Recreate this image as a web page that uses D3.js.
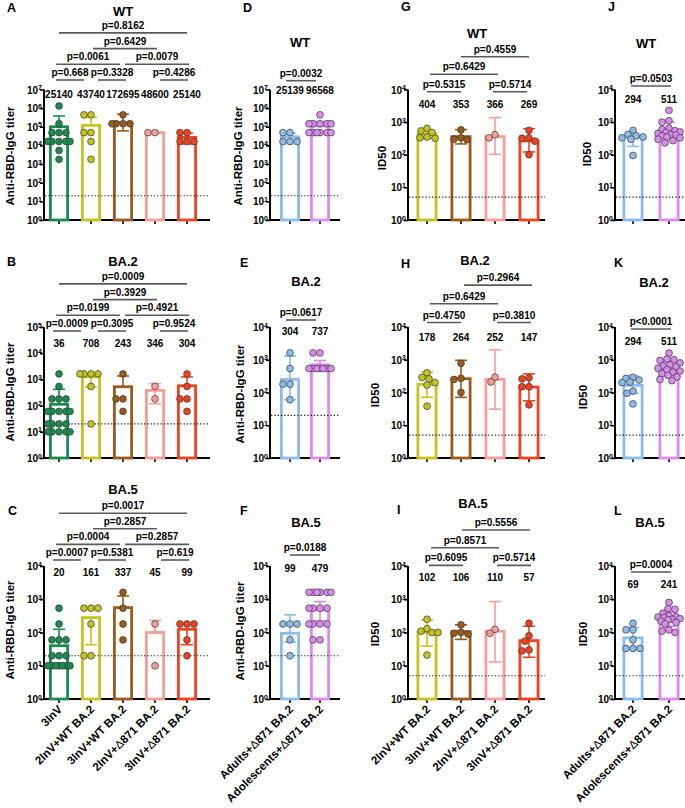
<!DOCTYPE html>
<html><head><meta charset="utf-8">
<script src="https://cdn.jsdelivr.net/npm/d3@7"></script>
<style>
body{margin:0;background:#fff;}
svg{display:block;font-family:"Liberation Sans",Arial,sans-serif;font-weight:bold;}
</style></head><body>
<svg id="c" width="685" height="808"></svg>
<script>
// ---------------- DATA ----------------
const catsFive = ["3InV","2InV+WT BA.2","3InV+WT BA.2","2InV+Δ871 BA.2","3InV+Δ871 BA.2"];
const catsFour = ["2InV+WT BA.2","3InV+WT BA.2","2InV+Δ871 BA.2","3InV+Δ871 BA.2"];
const catsTwo  = ["Adults+Δ871 BA.2","Adolescents+Δ871 BA.2"];
const variantTitles = ["WT","BA.2","BA.5"];
const lodIgG = 20, lodID50 = 5;

// Panel A (anti-RBD IgG, WT)
const aPoints = [[1312200,145800,48600,48600,48600,16200,16200,16200,16200,16200,5400,1800],
                 [437400,437400,48600,48600,16200,1800],
                 [437400,145800,145800,145800,145800],
                 [48600,48600],
                 [48600,48600,16200,16200,16200]];
const aBars = [100000,120000,165000,48600,27000];
const aErrLow = [null,null,60000,null,12000];
const aErrHigh = [380000,320000,480000,null,46000];
const aGMT = ["25140","43740","172695","48600","25140"];
const aStats = [["p=0.668",0,1,0],["p=0.3328",1,2,0],["p=0.4286",3,4,0],["p=0.0061",0,2,1],["p=0.0079",2,4,1],["p=0.6429",1,3,2],["p=0.8162",0,4,3]];

// Panel B (anti-RBD IgG, BA.2)
const bPoints = [[1620,540,180,180,180,60,60,60,60,60,20,20,20,20,10,10,10,10,10],
                 [1620,1620,1620,1620,540,20],
                 [1620,180,180,60],
                 [540,180],
                 [1620,540,180,180,60]];
const bBars = [112,1260,525,380,573];
const bErrLow = [null,510,null,118,null];
const bErrHigh = [420,null,1350,690,1240];
const bGMT = ["36","708","243","346","304"];
const bStats = [["p=0.0009",0,1,0],["p=0.3095",1,2,0],["p=0.9524",3,4,0],["p=0.0199",0,2,1],["p=0.4921",2,4,1],["p=0.3929",1,3,2],["p=0.0009",0,4,3]];

// Panel C (anti-RBD IgG, BA.5)
const cPoints = [[540,180,60,60,60,20,20,20,10,10,10,10,10,10,10],
                 [540,540,540,180,20,20],
                 [1620,540,180,60],
                 [180,10],
                 [180,180,180,60,20]];
const cBars = [40,280,560,100,125];
const cErrLow = [null,43,null,null,43];
const cErrHigh = [125,null,1250,230,null];
const cGMT = ["20","161","337","45","99"];
const cStats = [["p=0.0007",0,1,0],["p=0.5381",1,2,0],["p=0.619",3,4,0],["p=0.0004",0,2,1],["p=0.2857",2,4,1],["p=0.2857",1,3,2],["p=0.0017",0,4,3]];

// Panel D (anti-RBD IgG, WT, adults vs adolescents)
const dPoints = [[48600,48600,16200,16200,16200],
                 [437400,145800,145800,145800,145800,145800,48600,48600,48600,48600,48600,48600]];
const dBars = [29000,110000];
const dErrLow = [null,null];
const dErrHigh = [46000,190000];
const dGMT = ["25139","96568"];
const dStats = [["p=0.0032",0,1,0]];

// Panel E (BA.2)
const ePoints = [[1620,540,180,180,60],[1620,1620,540,540,540,540,540,540,540]];
const eBars = [250,700];
const eErrLow = [60,null];
const eErrHigh = [1300,950];
const eGMT = ["304","737"];
const eStats = [["p=0.0617",0,1,0]];

// Panel F (BA.5)
const fPoints = [[180,180,180,60,20],[1620,1620,1620,1620,1620,1620,540,540,540,540,180,180,180,180,60,60]];
const fBars = [95,480];
const fErrLow = [52,225];
const fErrHigh = [340,850];
const fGMT = ["99","479"];
const fStats = [["p=0.0188",0,1,0]];

// Panel G (ID50, WT)
const gPoints = [[640,540,480,350,330,320],[580,330,300,290],[330,410],[560,330,320,260,100]];
const gBars = [430,360,360,265];
const gErrLow = [320,215,103,122];
const gErrHigh = [580,590,1370,630];
const gGMT = ["404","353","366","269"];
const gStats = [["p=0.5315",0,1,0],["p=0.5714",2,3,0],["p=0.6429",0,2,1],["p=0.4559",1,3,2]];

// Panel H (ID50, BA.2)
const hPoints = [[400,290,260,200,170,38],[780,270,250,100],[210,295],[280,260,150,150,42]];
const hBars = [178,264,252,147];
const hErrLow = [71,71,31,56];
const hErrHigh = [425,960,2000,370];
const hGMT = ["178","264","252","147"];
const hStats = [["p=0.4750",0,1,0],["p=0.3810",2,3,0],["p=0.6429",0,2,1],["p=0.2964",1,3,2]];

// Panel I (ID50, BA.5)
const iPoints = [[250,130,110,100,100,21],[170,100,95,90],[95,125],[190,80,55,30,28]];
const iBars = [100,106,110,57];
const iErrLow = [39,62,13,18];
const iErrHigh = [235,170,850,155];
const iGMT = ["102","106","110","57"];
const iStats = [["p=0.6095",0,1,0],["p=0.5714",2,3,0],["p=0.8571",0,2,1],["p=0.5556",1,3,2]];

// Panel J (ID50, WT, adults vs adolescents)
const jPoints = [[560,420,380,350,330,300,95],
                 [2300,1100,1000,650,600,550,500,480,450,420,400,380,350,330,300,270,230]];
const jBars = [350,540];
const jErrLow = [180,null];
const jErrHigh = [null,1000];
const jGMT = ["294","511"];
const jStats = [["p=0.0503",0,1,0]];

// Panel K (ID50, BA.2)
const kPoints = [[290,270,240,210,200,110,95,45],
                 [1600,1050,1000,950,800,700,650,600,550,500,450,420,380,330,300,250,230]];
const kBars = [165,510];
const kErrLow = [95,320];
const kErrHigh = [320,880];
const kGMT = ["294","511"];
const kStats = [["p<0.0001",0,1,0]];

// Panel L (ID50, BA.5)
const lPoints = [[190,120,120,60,33,33,33],
                 [800,520,500,380,320,300,290,280,260,250,240,220,200,180,120,110,100]];
const lBars = [69,241];
const lErrLow = [34,155];
const lErrHigh = [140,410];
const lGMT = ["69","241"];
const lStats = [["p=0.0004",0,1,0]];

// ---------------- STYLE / LAYOUT ----------------
const colors = {
  "3InV":"#1b8c50","2InV+WT BA.2":"#c4c41e","3InV+WT BA.2":"#9a5a1c",
  "2InV+Δ871 BA.2":"#f59d98","3InV+Δ871 BA.2":"#f0421f",
  "Adults+Δ871 BA.2":"#8dbbea","Adolescents+Δ871 BA.2":"#d98cee"
};
const cols = {
  L:{axisX:44, right:210, first:59, last:187, barW:20},
  D:{axisX:270, right:340, first:290, last:320, barW:20},
  G:{axisX:408, right:545, first:427, last:529, barW:21},
  J:{axisX:615, right:685, first:633, last:669, barW:21}
};
const rows = [{top:89.5,bottom:220},{top:327,bottom:458},{top:566,bottom:699}];
const yTitleIgG = "Anti-RBD-IgG titer", yTitleID = "ID50";

const panels = [
 {L:"A",col:"L",row:0,max:7,cats:catsFive,pts:aPoints,bars:aBars,lo:aErrLow,hi:aErrHigh,gmt:aGMT,stats:aStats,lod:lodIgG,yt:yTitleIgG,
  tx:123,ty:15.5,numY:98,br0:80,brS:15.7,lx:7,ly:11.5,ytx:10,yty:156,nudge:{"0-1":-5,"1-2":5,"3-4":3,"0-2":-3,"2-4":2,"1-3":2},inset0:2},
 {L:"B",col:"L",row:1,max:5,cats:catsFive,pts:bPoints,bars:bBars,lo:bErrLow,hi:bErrHigh,gmt:bGMT,stats:bStats,lod:lodIgG,yt:yTitleIgG,
  tx:123,ty:266,numY:346.5,br0:331,brS:15.7,lx:7,ly:266,ytx:10,yty:392,nudge:{"0-1":-8,"1-2":5,"3-4":3,"0-2":-3,"2-4":2,"1-3":2},inset0:2},
 {L:"C",col:"L",row:2,max:4,cats:catsFive,pts:cPoints,bars:cBars,lo:cErrLow,hi:cErrHigh,gmt:cGMT,stats:cStats,lod:lodIgG,yt:yTitleIgG,
  tx:123,ty:494,numY:575.5,br0:560,brS:15.6,lx:8,ly:515,ytx:10,yty:630,nudge:{"0-1":-8,"1-2":5,"3-4":4,"0-2":-3,"2-4":2,"1-3":2},inset0:2},
 {L:"D",col:"D",row:0,max:7,cats:catsTwo,pts:dPoints,bars:dBars,lo:dErrLow,hi:dErrHigh,gmt:dGMT,stats:dStats,lod:lodIgG,yt:yTitleIgG,
  tx:300,ty:47,numY:94,br0:80.7,brS:16,lx:243,ly:11.5,ytx:238,yty:156,nudge:{"0-1":-4},inset0:0},
 {L:"E",col:"D",row:1,max:4,cats:catsTwo,pts:ePoints,bars:eBars,lo:eErrLow,hi:eErrHigh,gmt:eGMT,stats:eStats,lod:lodIgG,yt:yTitleIgG,
  tx:306,ty:286,numY:335,br0:320,brS:16,lx:240,ly:267,ytx:240,yty:394,nudge:{"0-1":-4},inset0:0},
 {L:"F",col:"D",row:2,max:4,cats:catsTwo,pts:fPoints,bars:fBars,lo:fErrLow,hi:fErrHigh,gmt:fGMT,stats:fStats,lod:lodIgG,yt:yTitleIgG,
  tx:306,ty:527,numY:571.5,br0:555,brS:16,lx:240,ly:515,ytx:240,yty:631,nudge:{"0-1":0},inset0:0},
 {L:"G",col:"G",row:0,max:4,cats:catsFour,pts:gPoints,bars:gBars,lo:gErrLow,hi:gErrHigh,gmt:gGMT,stats:gStats,lod:lodID50,yt:yTitleID,
  tx:477,ty:38,numY:108,br0:91.7,brS:17.5,lx:401,ly:11,ytx:382,yty:158,nudge:{"2-3":-2,"0-2":3},inset0:0},
 {L:"H",col:"G",row:1,max:4,cats:catsFour,pts:hPoints,bars:hBars,lo:hErrLow,hi:hErrHigh,gmt:hGMT,stats:hStats,lod:lodID50,yt:yTitleID,
  tx:475,ty:265,numY:340.5,br0:322.5,brS:18.7,lx:401,ly:268,ytx:375,yty:395,nudge:{"2-3":2,"0-2":3,"1-3":3},inset0:0},
 {L:"I",col:"G",row:2,max:4,cats:catsFour,pts:iPoints,bars:iBars,lo:iErrLow,hi:iErrHigh,gmt:iGMT,stats:iStats,lod:lodID50,yt:yTitleID,
  tx:473,ty:507.5,numY:580.5,br0:565.4,brS:17.7,lx:397,ly:514,ytx:375,yty:634,nudge:{"0-1":2,"2-3":2,"0-2":4,"1-3":1},inset0:0},
 {L:"J",col:"J",row:0,max:4,cats:catsTwo,pts:jPoints,bars:jBars,lo:jErrLow,hi:jErrHigh,gmt:jGMT,stats:jStats,lod:lodID50,yt:yTitleID,
  tx:646,ty:48,numY:103,br0:86,brS:16,lx:608,ly:11,ytx:587,yty:154,nudge:{"0-1":0},inset0:-2},
 {L:"K",col:"J",row:1,max:4,cats:catsTwo,pts:kPoints,bars:kBars,lo:kErrLow,hi:kErrHigh,gmt:kGMT,stats:kStats,lod:lodID50,yt:yTitleID,
  tx:654,ty:287,numY:344.5,br0:329,brS:16,lx:614,ly:267,ytx:583,yty:397,nudge:{"0-1":0},inset0:-2},
 {L:"L",col:"J",row:2,max:4,cats:catsTwo,pts:lPoints,bars:lBars,lo:lErrLow,hi:lErrHigh,gmt:lGMT,stats:lStats,lod:lodID50,yt:yTitleID,
  tx:650,ty:527,numY:587.5,br0:572,brS:16,lx:614,ly:515,ytx:583,yty:634,nudge:{"0-1":0},inset0:-2}
];
const titleOf = p => variantTitles[p.row];

// ---------------- DRAW ----------------
const svg = d3.select("#c");
const R = 3.4;

function swarm(values, y, cx, maxHalf){
  const pts = values.map(v=>({v, y:y(v)})).sort((a,b)=>a.y-b.y);
  const placed = [];
  const cands = [0];
  for(let k=1;k<=maxHalf;k++){cands.push(-k);cands.push(k);}
  pts.forEach(p=>{
    let best=null, bestScore=-1;
    for(const o of cands){
      let minD = Infinity;
      for(const q of placed){ const d=Math.hypot(q.x-(cx+o), q.y-p.y); if(d<minD)minD=d; }
      if(minD >= 2*R*0.92){ best=o; bestScore=Infinity; break; }
      if(minD > bestScore+0.01){ bestScore=minD; best=o; }
    }
    p.x = cx + best; placed.push(p);
  });
  return pts;
}

panels.forEach(P=>{
  const col = cols[P.col], row = rows[P.row];
  const g = svg.append("g");
  const y = d3.scaleLog().domain([1, Math.pow(10,P.max)]).range([row.bottom,row.top]);
  const x = d3.scalePoint().domain(P.cats).range([col.first,col.last]);

  // y axis
  const ya = d3.axisLeft(y).tickValues(d3.range(0,P.max+1).map(e=>Math.pow(10,e)))
     .tickSize(4).tickSizeOuter(0).tickPadding(-2).tickFormat(()=> "");
  const yg = g.append("g").attr("transform",`translate(${col.axisX},0)`).call(ya);
  yg.select(".domain").attr("stroke","#000").attr("stroke-width",2).attr("d",`M0,${row.bottom+1}V${row.top}`);
  yg.selectAll(".tick line").attr("stroke","#000").attr("stroke-width",1.6);
  yg.selectAll(".tick text").each(function(d){
     const t=d3.select(this); const e=Math.round(Math.log10(d));
     t.attr("font-size","10px").attr("font-weight","bold").attr("fill","#000").attr("dy","0.35em").text("10");
     t.append("tspan").attr("dy","-0.5em").attr("font-size","7px").text(e);
  });

  // x axis
  g.append("line").attr("x1",col.axisX-1).attr("x2",col.right).attr("y1",row.bottom).attr("y2",row.bottom)
    .attr("stroke","#000").attr("stroke-width",2);
  g.selectAll(".xt").data(P.cats).join("line").attr("x1",d=>x(d)).attr("x2",d=>x(d))
    .attr("y1",row.bottom).attr("y2",row.bottom+4).attr("stroke","#000").attr("stroke-width",1.6);

  // bars
  const sw = 2.8;
  g.selectAll(".bar").data(P.cats).join("rect")
    .attr("x",d=>x(d)-col.barW/2+sw/2).attr("width",col.barW-sw)
    .attr("y",(d,i)=>y(P.bars[i])).attr("height",(d,i)=>row.bottom-y(P.bars[i]))
    .attr("fill","#fff").attr("stroke",d=>colors[d]).attr("stroke-width",sw);

  // error bars
  P.cats.forEach((c,i)=>{
    const cx=x(c), yb=y(P.bars[i]);
    [P.lo[i],P.hi[i]].forEach(v=>{
      if(v==null) return;
      g.append("line").attr("x1",cx).attr("x2",cx).attr("y1",yb).attr("y2",y(v)).attr("stroke",colors[c]).attr("stroke-width",1.6);
      g.append("line").attr("x1",cx-6).attr("x2",cx+6).attr("y1",y(v)).attr("y2",y(v)).attr("stroke",colors[c]).attr("stroke-width",1.6);
    });
  });

  // LOD line
  g.append("line").attr("x1",col.axisX+1).attr("x2",col.right).attr("y1",y(P.lod)).attr("y2",y(P.lod))
    .attr("stroke","#222").attr("stroke-width",1.2).attr("stroke-dasharray","1.3 2");

  // points
  P.cats.forEach((c,i)=>{
    const pts = swarm(P.pts[i], y, x(c), 11);
    g.selectAll(null).data(pts).join("circle").attr("cx",d=>d.x).attr("cy",d=>d.y).attr("r",R)
      .attr("fill",colors[c]).attr("stroke","#3a3a3a").attr("stroke-width",0.7);
  });

  // GMT labels
  g.selectAll(".gmt").data(P.gmt).join("text").attr("x",(d,i)=>x(P.cats[i])).attr("y",P.numY)
    .attr("text-anchor","middle").attr("font-size","10px").text(d=>d);

  // brackets
  P.stats.forEach(s=>{
    const [txt,a,b,lv] = s;
    const key=a+"-"+b, nd = (P.nudge&&P.nudge[key])||0;
    const inset = lv===0 ? P.inset0 : 0;
    const x1 = x(P.cats[a])+inset+nd, x2 = x(P.cats[b])-inset+nd;
    const ly = P.br0 - lv*P.brS;
    g.append("line").attr("x1",x1).attr("x2",x2).attr("y1",ly).attr("y2",ly).attr("stroke","#5a5a5a").attr("stroke-width",1.6);
    g.append("text").attr("x",(x1+x2)/2).attr("y",ly-4).attr("text-anchor","middle").attr("font-size","10px").text(txt);
  });

  // title
  g.append("text").attr("x",P.tx).attr("y",P.ty).attr("text-anchor","middle").attr("font-size","13px").text(titleOf(P));
  // letter
  g.append("text").attr("x",P.lx).attr("y",P.ly).attr("font-size","12.5px").text(P.L);
  // y title
  g.append("text").attr("transform",`translate(${P.ytx+4},${P.yty}) rotate(-90)`).attr("text-anchor","middle")
    .attr("font-size","11.5px").text(P.yt);

  // x labels (bottom row only)
  if(P.row===2){
    P.cats.forEach(c=>{
      const t = g.append("text").attr("transform",`translate(${x(c)+4},${row.bottom+11}) rotate(-45)`)
        .attr("text-anchor","end").attr("font-size","11.5px");
      const parts = c.split("Δ");
      t.append("tspan").text(parts[0]);
      if(parts.length>1){ t.append("tspan").attr("font-weight","normal").text("Δ"); t.append("tspan").text(parts[1]); }
    });
  }
});
</script>
</body></html>
